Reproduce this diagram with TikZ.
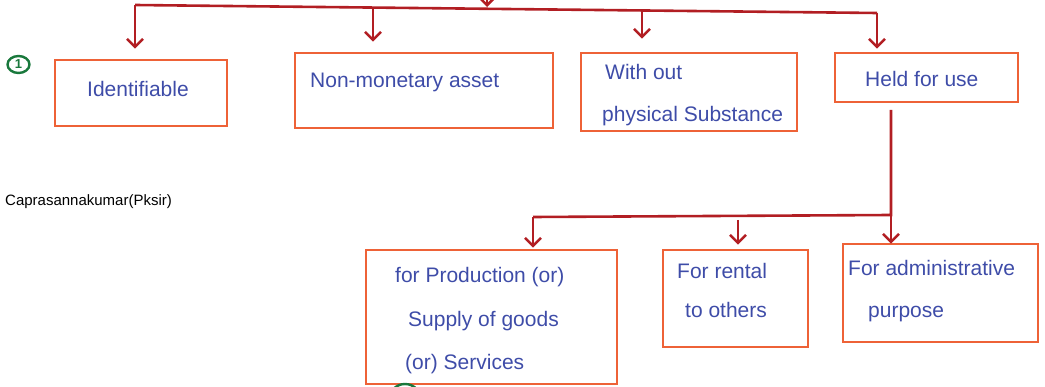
\documentclass[tikz,border=0pt]{standalone}
\usepackage{fontspec}
\setmainfont{Liberation Sans}
\usetikzlibrary{arrows.meta,shapes.geometric}
\definecolor{lred}{RGB}{178,30,35}
\definecolor{boxor}{RGB}{238,98,55}
\definecolor{ink}{RGB}{62,76,168}
\definecolor{grn}{RGB}{25,120,60}
\begin{document}
\begin{tikzpicture}[x=1pt,y=-1pt,
  box/.style={draw=boxor,line width=2.6pt,inner sep=0pt},
  hand/.style={text=ink,font=\fontsize{21}{25}\selectfont,anchor=base west,inner sep=0pt},
  conn/.style={draw=lred,line width=2.6pt},
  arr/.style={conn,-{Straight Barb[length=8pt,width=16pt]}},
  gring/.style={draw=grn,line width=2.4pt,inner sep=0pt,text=grn}]
\useasboundingbox (0,0) rectangle (1045,387);
\clip (0,0) rectangle (1045,387);
% top-level boxes
\node[box,minimum width=172pt,minimum height=66pt] (b1) at (141,93) {};
\node[box,minimum width=258pt,minimum height=75pt] (b2) at (424,90.5) {};
\node[box,minimum width=216pt,minimum height=78pt] (b3) at (689,92) {};
\node[box,minimum width=183pt,minimum height=49pt] (b4) at (926.5,77.5) {};
% lower boxes
\node[box,minimum width=251pt,minimum height=134pt] (b5) at (491.5,317) {};
\node[box,minimum width=145pt,minimum height=97pt] (b6) at (735.5,298.5) {};
\node[box,minimum width=195pt,minimum height=98pt] (b7) at (940.5,293) {};
% texts
\node[hand] (l1) at (87,97) {Identifiable};
\node[hand] (l2) at (310,88) {Non-monetary asset};
\node[hand] (l3a) at (605,80) {With out};
\node[hand] (l3b) at (602,122) {physical Substance};
\node[hand] (l4) at (865,87) {Held for use};
\node[hand] (l5a) at (395,283) {for Production (or)};
\node[hand] (l5b) at (408,327) {Supply of goods};
\node[hand] (l5c) at (405,370) {(or) Services};
\node[hand] (l6a) at (677,279) {For rental};
\node[hand] (l6b) at (685,318) {to others};
\node[hand] (l7a) at (848,276) {For administrative};
\node[hand] (l7b) at (868,318) {purpose};
\node[anchor=base west,inner sep=0pt,font=\fontsize{15}{18}\selectfont] (cap) at (5,206) {Caprasannakumar(Pksir)};
% green marks
\node[gring,ellipse,minimum width=22pt,minimum height=17pt,font=\fontsize{13}{13}\selectfont\bfseries] (one) at (18.5,64.5) {1};
\node[gring,circle,minimum size=32pt] (two) at (405,400) {};
% top connectors
\coordinate (tin) at (487,-30);
\coordinate (tm) at (487,7);
\coordinate (tl) at (135,5);
\coordinate (t2) at (373,7.5);
\coordinate (t3) at (642,10);
\coordinate (tr) at (877,13);
\draw[arr] (tin) -- (tm);
\draw[conn] (tl) -- (tr);
\draw[arr,shorten >=10pt] (tl) -- (tl |- b1.north);
\draw[arr,shorten >=10pt] (t2) -- (t2 |- b2.north);
\draw[arr,shorten >=13pt] (t3) -- (t3 |- b3.north);
\draw[arr,shorten >=3pt] (tr) -- (tr |- b4.north);
% lower connectors
\coordinate (vs) at (891,110);
\coordinate (vj) at (891,215);
\coordinate (hl) at (533,217);
\coordinate (h6) at (738,220);
\draw[conn] (vs) -- (vj) -- (hl);
\draw[arr,shorten >=1pt] (hl) -- (hl |- b5.north);
\draw[arr,shorten >=4pt] (h6) -- (h6 |- b6.north);
\draw[arr,shorten >=-1pt] (vj) -- (vj |- b7.north);
\end{tikzpicture}
\end{document}
